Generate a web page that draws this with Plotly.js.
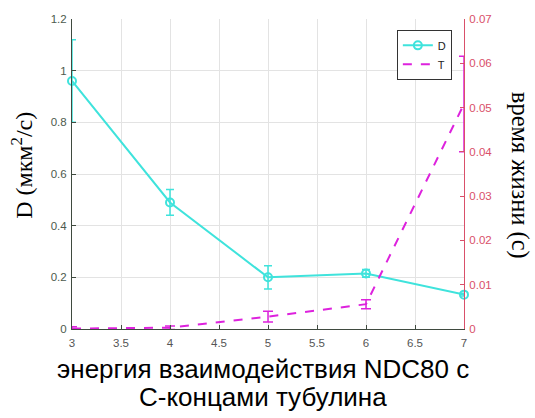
<!DOCTYPE html>
<html>
<head>
<meta charset="utf-8">
<script src="https://cdn.plot.ly/plotly-3.0.1.min.js"></script>
<style>html,body{margin:0;padding:0;background:#fff;}#chart{width:535px;height:418px;}</style>
</head>
<body>
<div id="chart"></div>
<script>
// Data
const energy = [3, 4, 5, 6, 7];
const dValues = [0.96, 0.49, 0.20, 0.215, 0.133];
const dErrors = [0.16, 0.05, 0.045, 0.015, 0.005];
const tValues = [0.0001, 0.0003, 0.0028, 0.0056, 0.0508];
const tErrors = [0.0004, 0.0004, 0.0012, 0.001, 0.0108];
const xTicks = [3, 3.5, 4, 4.5, 5, 5.5, 6, 6.5, 7];
const xTickText = ['3', '3.5', '4', '4.5', '5', '5.5', '6', '6.5', '7'];
const dTicks = [0, 0.2, 0.4, 0.6, 0.8, 1, 1.2];
const dTickText = ['0', '0.2', '0.4', '0.6', '0.8', '1', '1.2'];
const tTicks = [0, 0.01, 0.02, 0.03, 0.04, 0.05, 0.06, 0.07];
const tTickText = ['0', '0.01', '0.02', '0.03', '0.04', '0.05', '0.06', '0.07'];

const cyan = '#3fe3dc';
const magenta = '#dd22dd';
const leftCol = '#3f4a3f';
const rightCol = '#d9506a';

const traces = [
  {
    x: energy, y: dValues, name: 'D', type: 'scatter', mode: 'lines+markers',
    cliponaxis: false,
    line: {color: cyan, width: 2},
    marker: {symbol: 'circle-open', size: 8, color: cyan, line: {width: 2, color: cyan}},
    error_y: {type: 'data', array: dErrors, visible: true, color: cyan, thickness: 1.5, width: 4},
    yaxis: 'y'
  },
  {
    x: energy, y: tValues, name: 'T', type: 'scatter', mode: 'lines',
    cliponaxis: false,
    line: {color: magenta, width: 2, dash: 'dash'},
    error_y: {type: 'data', array: tErrors, visible: true, color: magenta, thickness: 1.5, width: 5},
    yaxis: 'y2'
  }
];

const tickFont = {family: 'Liberation Sans, Arial, sans-serif', size: 11.5};

const layout = {
  width: 535, height: 418,
  margin: {l: 72, r: 71, t: 19, b: 89, pad: 0},
  paper_bgcolor: '#fff', plot_bgcolor: '#fff',
  showlegend: true,
  legend: {
    x: 0.969, y: 0.965, xanchor: 'right', yanchor: 'top',
    bgcolor: '#fff', bordercolor: '#333', borderwidth: 1,
    font: {family: 'Liberation Sans, Arial, sans-serif', size: 11, color: '#222'},
    tracegroupgap: 0, itemwidth: 30
  },
  xaxis: {
    range: [3, 7], tickmode: 'array', tickvals: xTicks, ticktext: xTickText,
    ticks: 'inside', ticklen: 4, tickcolor: leftCol, ticklabelstandoff: 3,
    showline: true, linecolor: leftCol, linewidth: 1,
    showgrid: true, gridcolor: '#e3e3e3', gridwidth: 1, zeroline: false,
    tickfont: Object.assign({color: '#555'}, tickFont)
  },
  yaxis: {
    range: [0, 1.2], tickmode: 'array', tickvals: dTicks, ticktext: dTickText,
    ticks: 'inside', ticklen: 4, tickcolor: leftCol, ticklabelstandoff: 2,
    showline: true, linecolor: leftCol, linewidth: 1,
    showgrid: true, gridcolor: '#e3e3e3', gridwidth: 1, zeroline: false,
    tickfont: Object.assign({color: '#4d5a4d'}, tickFont)
  },
  yaxis2: {
    range: [0, 0.07], overlaying: 'y', side: 'right',
    tickmode: 'array', tickvals: tTicks, ticktext: tTickText,
    ticks: 'inside', ticklen: 4, tickcolor: rightCol, ticklabelstandoff: 2,
    showline: true, linecolor: rightCol, linewidth: 1,
    showgrid: false, zeroline: false,
    tickfont: Object.assign({color: rightCol}, tickFont)
  },
  annotations: [
    {
      text: 'D (мкм<sup>2</sup>/с)', xref: 'paper', yref: 'paper',
      x: -0.128, y: 0.529, xanchor: 'center', yanchor: 'middle', textangle: -90,
      showarrow: false, font: {family: 'Liberation Serif, Times New Roman, serif', size: 24, color: '#000'}
    },
    {
      text: 'время жизни (с)', xref: 'paper', yref: 'paper',
      x: 1.143, y: 0.497, xanchor: 'center', yanchor: 'middle', textangle: 90,
      showarrow: false, font: {family: 'Liberation Serif, Times New Roman, serif', size: 24.5, color: '#000'}
    },
    {
      text: 'энергия взаимодействия NDC80 с', xref: 'paper', yref: 'paper',
      x: 0.487, y: -0.129, xanchor: 'center', yanchor: 'middle',
      showarrow: false, font: {family: 'Liberation Sans, Arial, sans-serif', size: 26, color: '#000'}
    },
    {
      text: 'С-концами тубулина', xref: 'paper', yref: 'paper',
      x: 0.487, y: -0.219, xanchor: 'center', yanchor: 'middle',
      showarrow: false, font: {family: 'Liberation Sans, Arial, sans-serif', size: 26, color: '#000'}
    }
  ]
};

Plotly.newPlot('chart', traces, layout, {displayModeBar: false, staticPlot: true});
</script>
</body>
</html>
